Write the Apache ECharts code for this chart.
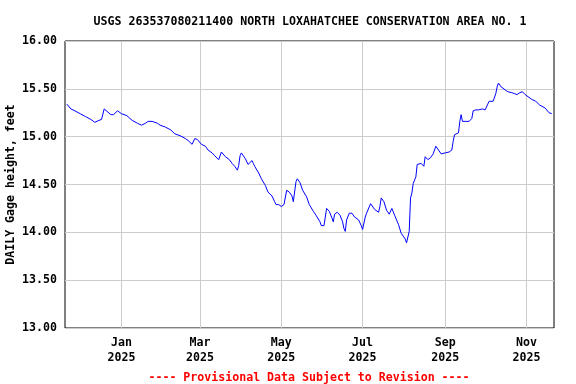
<!DOCTYPE html>
<html>
<head>
<meta charset="utf-8">
<script src="https://cdn.jsdelivr.net/npm/echarts@6/dist/echarts.min.js"></script>
<style>html,body{margin:0;padding:0;background:#fff}#c{width:576px;height:384px}</style>
</head>
<body>
<div id="c"></div>
<script>
var titleText = 'USGS 263537080211400 NORTH LOXAHATCHEE CONSERVATION AREA NO. 1';
var footerText = '---- Provisional Data Subject to Revision ----';
var yAxisName = 'DAILY Gage height, feet';

var dates = [
'2024-11-21','2024-11-24','2024-11-27','2024-12-01','2024-12-05','2024-12-09','2024-12-12','2024-12-15','2024-12-17','2024-12-19',
'2024-12-20','2024-12-24','2024-12-26','2024-12-27','2024-12-29','2024-12-30','2025-01-01','2025-01-05','2025-01-09','2025-01-13',
'2025-01-16','2025-01-19','2025-01-21','2025-01-24','2025-01-28','2025-01-30','2025-02-03','2025-02-07','2025-02-10','2025-02-14',
'2025-02-18','2025-02-20','2025-02-23','2025-02-25','2025-02-27','2025-02-28','2025-03-02','2025-03-05','2025-03-07','2025-03-10',
'2025-03-12','2025-03-15','2025-03-17','2025-03-18','2025-03-20','2025-03-21','2025-03-23','2025-03-25','2025-03-27','2025-03-29',
'2025-03-30','2025-03-31','2025-04-01','2025-04-02','2025-04-04','2025-04-06','2025-04-07','2025-04-09','2025-04-10','2025-04-11',
'2025-04-14','2025-04-16','2025-04-19','2025-04-21','2025-04-24','2025-04-26','2025-04-27','2025-04-29','2025-05-01','2025-05-03',
'2025-05-04','2025-05-05','2025-05-07','2025-05-09','2025-05-10','2025-05-12','2025-05-13','2025-05-15','2025-05-17','2025-05-20',
'2025-05-22','2025-05-25','2025-05-27','2025-05-30','2025-05-31','2025-06-02','2025-06-04','2025-06-06','2025-06-08','2025-06-09',
'2025-06-10','2025-06-12','2025-06-14','2025-06-16','2025-06-17','2025-06-18','2025-06-19','2025-06-21','2025-06-23','2025-06-25',
'2025-06-28','2025-06-30','2025-07-01','2025-07-03','2025-07-04','2025-07-05','2025-07-07','2025-07-08','2025-07-10','2025-07-11',
'2025-07-13','2025-07-14','2025-07-15','2025-07-17','2025-07-19','2025-07-21','2025-07-23','2025-07-25','2025-07-28','2025-07-30',
'2025-08-02','2025-08-03','2025-08-04','2025-08-05','2025-08-06','2025-08-07','2025-08-08','2025-08-10','2025-08-11','2025-08-14',
'2025-08-16','2025-08-17','2025-08-19','2025-08-21','2025-08-23','2025-08-25','2025-08-27','2025-08-29','2025-09-01','2025-09-02',
'2025-09-04','2025-09-06','2025-09-07','2025-09-08','2025-09-09','2025-09-11','2025-09-12','2025-09-13','2025-09-14','2025-09-16',
'2025-09-19','2025-09-21','2025-09-22','2025-09-24','2025-09-26','2025-09-27','2025-09-29','2025-10-01','2025-10-03','2025-10-04',
'2025-10-07','2025-10-08','2025-10-09','2025-10-10','2025-10-11','2025-10-13','2025-10-16','2025-10-18','2025-10-21','2025-10-23',
'2025-10-25','2025-10-27','2025-10-29','2025-10-31','2025-11-01','2025-11-05','2025-11-08','2025-11-11','2025-11-15','2025-11-18',
'2025-11-20'
];
var gageHeight = [
15.34,15.29,15.27,15.24,15.21,15.18,15.15,15.17,15.18,15.29,
15.27,15.23,15.23,15.24,15.27,15.26,15.24,15.22,15.17,15.14,
15.12,15.14,15.16,15.16,15.14,15.12,15.10,15.07,15.03,15.01,
14.98,14.96,14.92,14.98,14.97,14.95,14.92,14.90,14.86,14.83,
14.80,14.76,14.84,14.83,14.79,14.80,14.76,14.72,14.69,14.65,
14.70,14.80,14.83,14.81,14.77,14.71,14.73,14.75,14.72,14.69,
14.62,14.56,14.49,14.42,14.38,14.32,14.29,14.29,14.27,14.29,
14.29,14.44,14.42,14.38,14.32,14.53,14.56,14.52,14.44,14.37,
14.29,14.22,14.18,14.11,14.07,14.07,14.25,14.22,14.15,14.11,
14.19,14.21,14.18,14.11,14.04,14.01,14.13,14.20,14.20,14.16,
14.13,14.07,14.03,14.16,14.20,14.18,14.30,14.29,14.24,14.24,
14.21,14.27,14.36,14.32,14.23,14.19,14.25,14.18,14.08,13.99,
13.93,13.89,13.89,14.01,14.36,14.41,14.51,14.58,14.71,14.72,
14.69,14.79,14.76,14.78,14.82,14.90,14.86,14.82,14.83,14.81,
14.84,14.86,14.95,15.02,15.01,15.04,15.16,15.23,15.16,15.16,
15.16,15.19,15.27,15.28,15.28,15.30,15.29,15.28,15.34,15.37,
15.37,15.38,15.45,15.52,15.56,15.52,15.49,15.47,15.46,15.45,
15.44,15.46,15.47,15.44,15.42,15.39,15.37,15.33,15.30,15.25,
15.24
];
var tickDates = ['2025-01-01','2025-03-01','2025-05-01','2025-07-01','2025-09-01','2025-11-01'];
var tickLabels = ['Jan\n2025','Mar\n2025','May\n2025','Jul\n2025','Sep\n2025','Nov\n2025'];
var yMin = 13, yMax = 16, yStep = 0.5;
var xStart = '2024-11-19T14:00:00', xEnd = '2025-11-21T17:00:00';

function ts(s){ return echarts.time.parse(s).getTime(); }
var tickValues = tickDates.map(ts);
var labelMap = {};
tickValues.forEach(function(v,i){ labelMap[v] = tickLabels[i]; });
var seriesData = dates.map(function(d,i){ return [ts(d), gageHeight[i]]; });

var FONT = 'DejaVu Sans Mono';
var chart = echarts.init(document.getElementById('c'), null, {renderer:'canvas'});
chart.setOption({
  animation: false,
  backgroundColor: '#fff',
  title: [
    {text: titleText, left: 305, top: 11, textAlign: 'center',
     textStyle: {fontFamily: FONT, fontWeight: 'bold', fontSize: 11.6, color: '#000'}},
    {text: footerText, left: 304, top: 367, textAlign: 'center',
     textStyle: {fontFamily: FONT, fontWeight: 'bold', fontSize: 11.6, color: '#ff0000'}}
  ],
  grid: {left: 65, right: 22, top: 41, bottom: 56, show: true, borderColor: '#000', borderWidth: 1,
         backgroundColor: '#fff', containLabel: false, outerBoundsMode: 'none'},
  xAxis: {
    type: 'value', min: ts(xStart), max: ts(xEnd), scale: true,
    axisLine: {show: false},
    axisTick: {show: false, customValues: tickValues},
    splitLine: {show: true, lineStyle: {color: '#cccccc', width: 1}},
    axisLabel: {customValues: tickValues, margin: 7, lineHeight: 15,
      fontFamily: FONT, fontWeight: 'bold', fontSize: 11.6, color: '#000',
      formatter: function(v){ return labelMap[v] || ''; }}
  },
  yAxis: {
    type: 'value', min: yMin, max: yMax, interval: yStep,
    name: yAxisName, nameLocation: 'middle', nameRotate: 90, nameGap: 48, nameMoveOverlap: false,
    nameTextStyle: {fontFamily: FONT, fontWeight: 'bold', fontSize: 11.6, color: '#000'},
    axisLine: {show: false}, axisTick: {show: false},
    splitLine: {show: true, lineStyle: {color: '#cccccc', width: 1}},
    axisLabel: {margin: 8, fontFamily: FONT, fontWeight: 'bold', fontSize: 11.6, color: '#000',
      formatter: function(v){ return v.toFixed(2); }}
  },
  series: [{
    type: 'line', data: seriesData, showSymbol: false, symbol: 'none',
    lineStyle: {color: '#0000ff', width: 1}, z: 3
  }]
});
</script>
</body>
</html>
